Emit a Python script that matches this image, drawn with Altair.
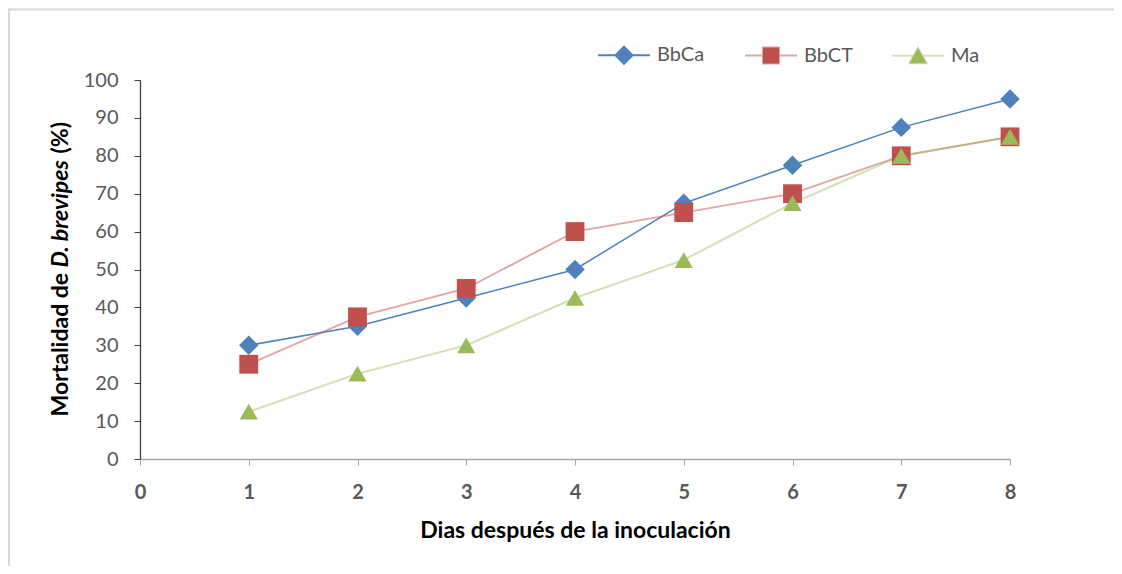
import altair as alt
import pandas as pd

# ---- data ----
dias = [1, 2, 3, 4, 5, 6, 7, 8]
bbca = [30, 35, 42.5, 50, 67.5, 77.5, 87.5, 95]
bbct = [25, 37.5, 45, 60, 65, 70, 80, 85]
ma = [12.5, 22.5, 30, 42.5, 52.5, 67.5, 80, 85]
series_names = ["BbCa", "BbCT", "Ma"]
x_ticks = [0, 1, 2, 3, 4, 5, 6, 7, 8]
y_ticks = [0, 10, 20, 30, 40, 50, 60, 70, 80, 90, 100]
x_title = "Dias después de la inoculación"
y_title_parts = ["Mortalidad de", "D. brevipes", "(%)"]

rows = []
for name, vals in zip(series_names, [bbca, bbct, ma]):
    for d, v in zip(dias, vals):
        rows.append({"dia": d, "mort": v, "serie": name})
df = pd.DataFrame(rows)

# ---- styles ----
FONT = "Lato"
W, H = 870, 379
marker_colors = ["#4F81BD", "#C0504D", "#9BBB59"]
line_colors = ["#4F81BD", "rgba(192,80,77,0.5)", "rgba(155,187,89,0.42)"]
line_widths = [1.5, 2.2, 2.2]
marker_shapes = ["diamond", "square", "triangle-up"]
marker_sizes = [380, 330, 420]
legend_paths = [
    "M-2.6,0L-0.85,0M0.85,0L2.6,0M0,-0.85L0.85,0L0,0.85L-0.85,0Z",
    "M-2.6,0L-0.8,0M0.8,0L2.6,0M-0.8,-0.8L0.8,-0.8L0.8,0.8L-0.8,0.8Z",
    "M-2.6,0L-0.44,0M0.44,0L2.6,0M0,-0.8L0.86,0.75L-0.86,0.75Z",
]

x_enc = alt.X(
    "dia:Q",
    scale=alt.Scale(domain=[0, 8], nice=False),
    axis=alt.Axis(
        values=x_ticks, format="d", title=x_title,
        titleFont=FONT, titleFontSize=23, titleFontWeight="bold", titleColor="#000000",
        titleY=78, titleBaseline="alphabetic",
        labelFont=FONT, labelFontSize=20, labelFontWeight="bold", labelColor="#595959",
        labelBaseline="alphabetic", labelPadding=33, labelFlush=False, labelOverlap=False,
        tickSize=6, tickColor="#A6A6A6", domainColor="#A6A6A6", domainWidth=1.3,
        grid=False,
    ),
)
y_enc = alt.Y(
    "mort:Q",
    scale=alt.Scale(domain=[0, 100], nice=False),
    axis=alt.Axis(
        values=y_ticks, tickCount=11, title=None,
        labelFont=FONT, labelFontSize=20, labelColor="#595959",
        labelPadding=16, labelFlush=False, labelOverlap=False,
        tickSize=6, tickColor="#404040", domainColor="#404040", domainWidth=1.3,
        grid=False,
    ),
)

base = alt.Chart(df)

lines = base.mark_line().encode(
    x=x_enc,
    y=y_enc,
    stroke=alt.Stroke("serie:N", scale=alt.Scale(domain=series_names, range=line_colors), legend=None),
    strokeWidth=alt.StrokeWidth("serie:N", scale=alt.Scale(domain=series_names, range=line_widths), legend=None),
)

points = base.mark_point(filled=True, opacity=1, strokeWidth=0).encode(
    x=x_enc,
    y=y_enc,
    fill=alt.Fill("serie:N", scale=alt.Scale(domain=series_names, range=marker_colors), legend=None),
    shape=alt.Shape("serie:N", scale=alt.Scale(domain=series_names, range=marker_shapes), legend=None),
    size=alt.Size("serie:N", scale=alt.Scale(domain=series_names, range=marker_sizes), legend=None),
)

leg = alt.Legend(
    title=None, orient="none", legendX=473, legendY=-36, direction="horizontal",
    symbolSize=400, symbolStrokeWidth=2, labelOffset=22, columnPadding=34, gridAlign="all",
    labelFont=FONT, labelFontSize=20, labelColor="#595959", padding=0,
)
legend_layer = base.transform_filter("false").mark_point(filled=True, opacity=1).encode(
    fill=alt.Fill("serie:N", scale=alt.Scale(domain=series_names, range=marker_colors), legend=leg),
    stroke=alt.Stroke("serie:N", scale=alt.Scale(domain=series_names, range=line_colors), legend=leg),
    shape=alt.Shape("serie:N", scale=alt.Scale(domain=series_names, range=legend_paths), legend=leg),
)

one = alt.Data(values=[{}])
YT = dict(angle=270, align="left", baseline="alphabetic", font=FONT, fontSize=23,
          fontWeight="bold", color="#000000")
yt1 = alt.Chart(one).mark_text(text=y_title_parts[0], **YT).encode(
    x=alt.value(-72.5), y=alt.value(336.5))
yt2 = alt.Chart(one).mark_text(text=y_title_parts[1], fontStyle="italic", **YT).encode(
    x=alt.value(-72.5), y=alt.value(187.5))
yt3 = alt.Chart(one).mark_text(text=y_title_parts[2], **YT).encode(
    x=alt.value(-72.5), y=alt.value(73.5))

border_top = alt.Chart(one).mark_rule(color="#D9D9D9", strokeWidth=2).encode(
    x=alt.value(-131), x2=alt.value(W + 104), y=alt.value(-70.5)
)
border_left = alt.Chart(one).mark_rule(color="#D9D9D9", strokeWidth=2).encode(
    x=alt.value(-131), y=alt.value(-71.5), y2=alt.value(H + 107)
)

chart = (
    alt.layer(border_top, border_left, lines, points, legend_layer, yt1, yt2, yt3)
    .resolve_scale(fill="independent", stroke="independent", shape="independent")
    .properties(
        width=W, height=H,
        autosize=alt.AutoSizeParams(type="none"),
        padding={"left": 132, "top": 72, "right": 104, "bottom": 107},
        background="white",
    )
    .configure_view(stroke=None)
)

chart.save("out.html", embed_options={"renderer": "svg", "actions": False})
